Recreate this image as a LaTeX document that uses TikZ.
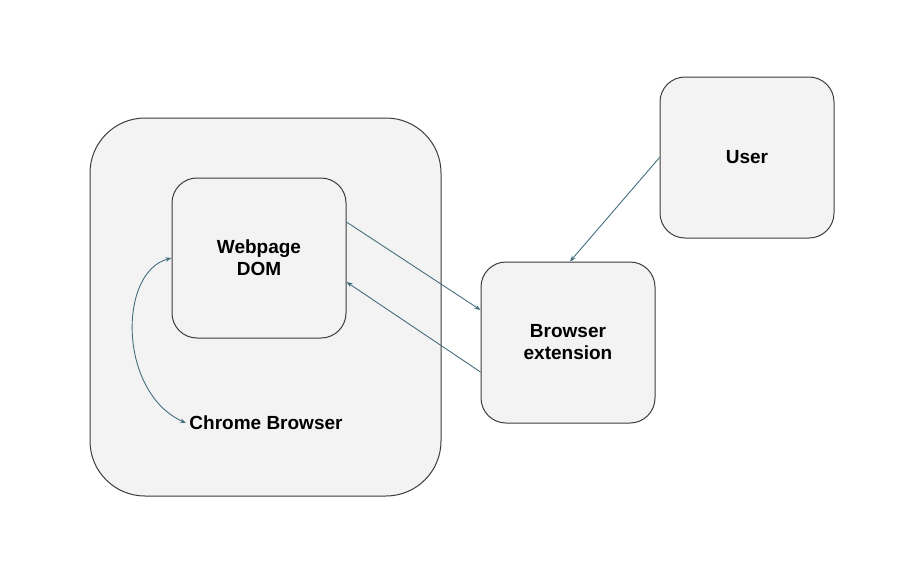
\documentclass[tikz,border=0pt]{standalone}
\usepackage{fontspec}
\setmainfont{Liberation Sans}
\usetikzlibrary{arrows.meta,positioning,calc}
\definecolor{boxfill}{RGB}{243,243,243}
\definecolor{boxline}{RGB}{60,60,60}
\definecolor{flow}{RGB}{69,110,125}

\begin{document}
\begin{tikzpicture}[
    x=1pt, y=-1pt,
    every node/.style={font=\fontsize{19}{22}\selectfont\bfseries},
    box/.style={draw=boxline, fill=boxfill, line width=1pt, rounded corners=25pt, align=center},
    arrow/.style={-{Stealth[length=6pt,width=4.5pt]}, draw=flow, line width=0.9pt},
]

% Page size
\useasboundingbox (0,0) rectangle (920,568);

% Browser window
\node[box, rounded corners=55pt, minimum width=351pt, minimum height=378pt] (chrome) at (265.5,307) {};
\node (chromelabel) at (266,423) {Chrome Browser};

% Boxes
\node[box, minimum width=174pt, minimum height=160pt] (dom) at (259,258) {Webpage\\DOM};
\node[box, minimum width=174pt, minimum height=161pt] (ext) at (568,342.5) {Browser\\extension};
\node[box, minimum width=174pt, minimum height=161pt] (user) at (747,157.5) {User};

% Flows
\draw[arrow] ([yshift=36pt]dom.east) -- ([yshift=32.5pt]ext.west);
\draw[arrow] ([yshift=-29.5pt]ext.west) -- ([yshift=-24pt]dom.east);
\draw[arrow] (user.west) -- ([xshift=2pt]ext.north);
\draw[arrow, {Stealth[length=6pt,width=4.5pt]}-{Stealth[length=6pt,width=4.5pt]}]
    (dom.west) .. controls (118,272) and (118,392) .. (chromelabel.west);

\end{tikzpicture}
\end{document}
